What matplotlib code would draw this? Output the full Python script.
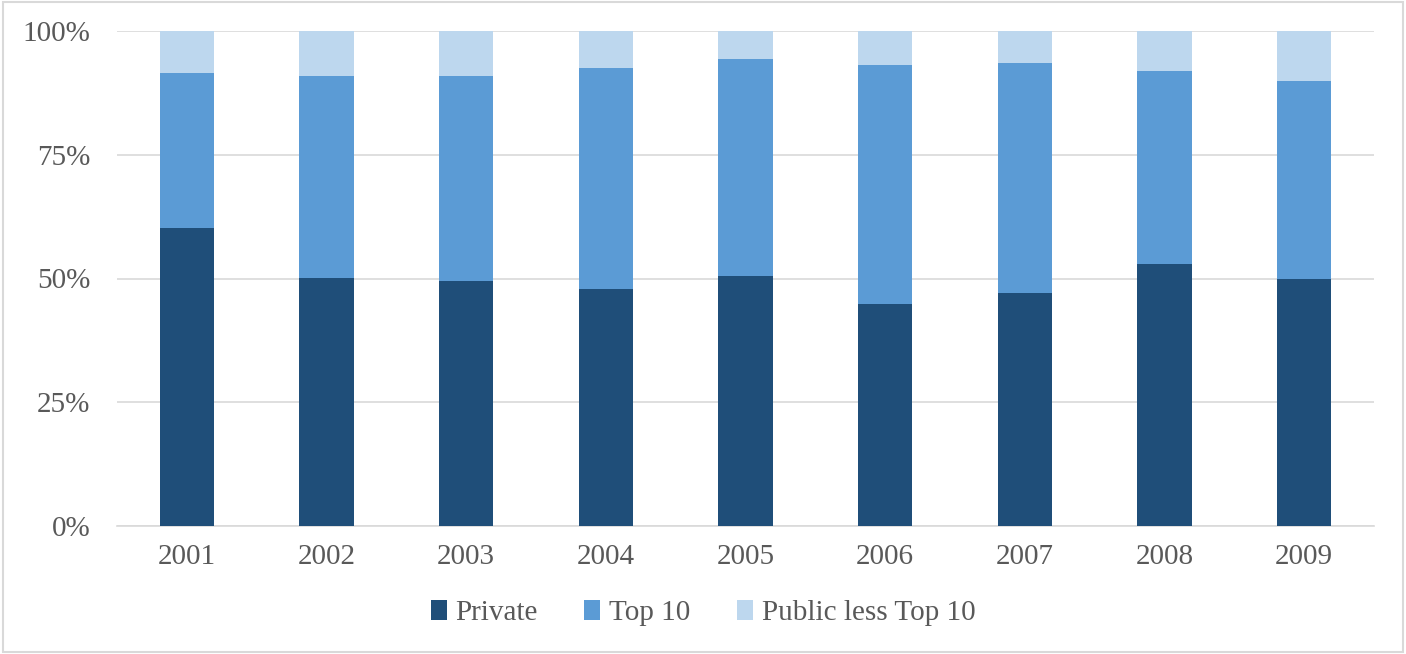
import matplotlib
matplotlib.use('Agg')
import matplotlib.pyplot as plt
from matplotlib.patches import Rectangle
from matplotlib.ticker import FuncFormatter
import numpy as np

# Shares by year (percent)
years = ['2001', '2002', '2003', '2004', '2005', '2006', '2007', '2008', '2009']
private = [60.2, 50.2, 49.5, 47.9, 50.6, 44.9, 47.0, 52.9, 50.0]
top10 = [31.4, 40.8, 41.4, 44.6, 43.7, 48.3, 46.5, 39.1, 40.0]
public_less = [8.4, 9.0, 9.1, 7.5, 5.7, 6.8, 6.5, 8.0, 10.0]

colors = ['#1F4E79', '#5B9BD5', '#BDD7EE']
labels = ['Private', 'Top 10', 'Public less Top 10']

plt.rcParams['font.family'] = ['Liberation Serif', 'DejaVu Serif']
text_color = '#595959'

fig = plt.figure(figsize=(14.06, 6.54), dpi=100)
ax = fig.add_axes([117 / 1406, 1 - 526 / 654, (1374 - 117) / 1406, (526 - 31) / 654])

x = np.arange(len(years))
width = 0.39
bottom = np.zeros(len(years))
for vals, col, lab in zip([private, top10, public_less], colors, labels):
    ax.bar(x, vals, width, bottom=bottom, color=col, label=lab, zorder=3)
    bottom += np.array(vals)

ax.set_xlim(-0.5, len(years) - 0.5)
ax.set_ylim(0, 100)
ax.set_yticks([0, 25, 50, 75, 100])
ax.yaxis.set_major_formatter(FuncFormatter(lambda v, p: f'{int(v)}%'))
ax.set_xticks(x)
ax.set_xticklabels(years)
ax.grid(axis='y', color='#D9D9D9', linewidth=1.2, zorder=0)
for s in ['top', 'right', 'left']:
    ax.spines[s].set_visible(False)
ax.spines['bottom'].set_color('#D9D9D9')
ax.spines['bottom'].set_linewidth(1.2)
ax.tick_params(axis='both', length=0, labelsize=21, colors=text_color)
ax.tick_params(axis='x', pad=13)
ax.tick_params(axis='y', pad=19)

leg = fig.legend(loc='center', bbox_to_anchor=(0.5, 1 - 613 / 654), ncol=3, frameon=False,
                 fontsize=21, handlelength=0.55, handleheight=0.7, handletextpad=0.3,
                 columnspacing=1.6)
for t in leg.get_texts():
    t.set_color(text_color)

# light border around the whole picture
fig.patches.append(Rectangle((0.002, 0.003), 0.996, 0.994, transform=fig.transFigure,
                             fill=False, edgecolor='#D9D9D9', linewidth=1.5))

fig.savefig('out.png', dpi=100)
